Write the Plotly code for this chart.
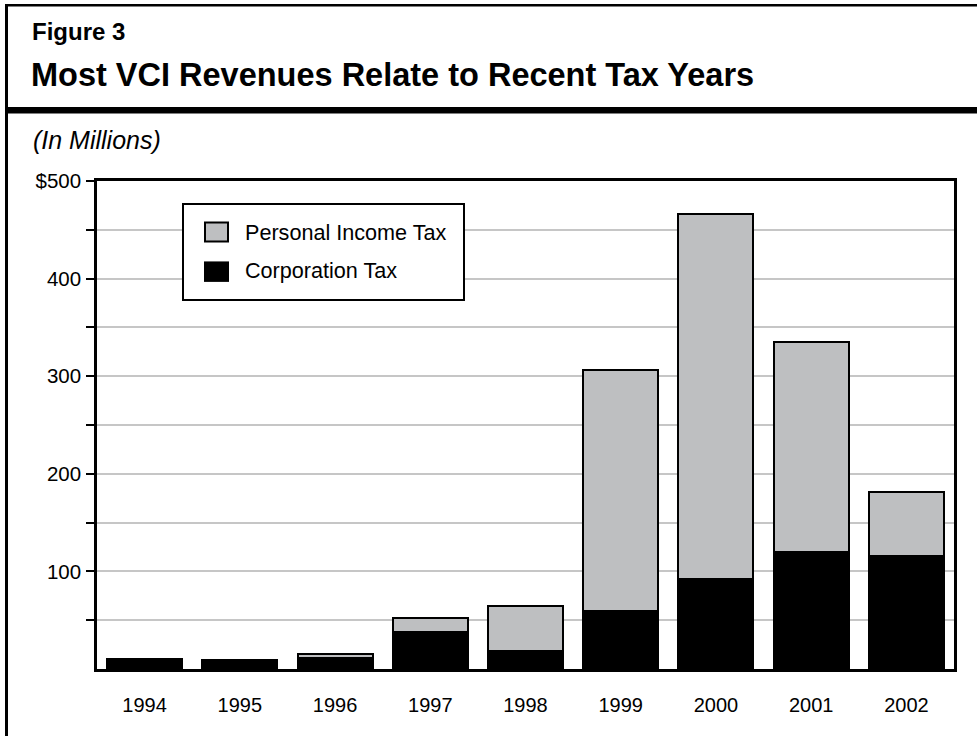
import plotly.graph_objects as go

# ---- data ----
years = ["1994", "1995", "1996", "1997", "1998", "1999", "2000", "2001", "2002"]
corporation_tax = [10, 9, 11, 38, 18, 59, 92, 120, 116]
personal_income_tax = [0, 0, 4, 14, 47, 247, 374, 215, 65]
y_tick_values = [50, 100, 150, 200, 250, 300, 350, 400, 450, 500]
y_tick_labels = ["", "100", "", "200", "", "300", "", "400", "", "$500"]

FONT = "Liberation Sans, Arial, Helvetica, sans-serif"
GRAY = "#bebfc1"

W, H = 977, 736
PL, PR, PT, PB = 97, 954, 181, 669.5


def px(x):
    return (x - PL) / (PR - PL)


def py(y):
    return (PB - y) / (PB - PT)


fig = go.Figure()
fig.add_trace(go.Bar(
    x=years, y=corporation_tax, name="Corporation Tax",
    marker=dict(color="black", line=dict(color="black", width=2)),
    showlegend=False,
))
fig.add_trace(go.Bar(
    x=years, y=personal_income_tax, name="Personal Income Tax",
    marker=dict(color=GRAY, line=dict(color="black", width=2)),
    showlegend=False,
))

shapes = []
# outer frame: left border, top border, thick rule under title
shapes.append(dict(type="line", xref="paper", yref="paper",
                   x0=px(6.5), x1=px(6.5), y0=py(4), y1=py(745),
                   line=dict(color="black", width=3), layer="above"))
shapes.append(dict(type="line", xref="paper", yref="paper",
                   x0=px(5), x1=px(990), y0=py(5), y1=py(5),
                   line=dict(color="black", width=2.5), layer="above"))
shapes.append(dict(type="rect", xref="paper", yref="paper",
                   x0=px(5), x1=px(990), y0=py(107), y1=py(113.5),
                   fillcolor="black", line=dict(width=0), layer="above"))
# legend box
shapes.append(dict(type="rect", xref="paper", yref="paper",
                   x0=px(183), x1=px(464), y0=py(204), y1=py(300),
                   fillcolor="white", line=dict(color="black", width=2), layer="above"))
shapes.append(dict(type="rect", xref="paper", yref="paper",
                   x0=px(205), x1=px(228), y0=py(222.5), y1=py(241.5),
                   fillcolor=GRAY, line=dict(color="black", width=2), layer="above"))
shapes.append(dict(type="rect", xref="paper", yref="paper",
                   x0=px(204), x1=px(229), y0=py(261.5), y1=py(282),
                   fillcolor="black", line=dict(width=0), layer="above"))

annotations = [
    dict(text="<b>Figure 3</b>", x=px(30), y=py(31), xref="paper", yref="paper",
         xanchor="left", yanchor="middle", showarrow=False,
         font=dict(family=FONT, size=24, color="black")),
    dict(text="<b>Most VCI Revenues Relate to Recent Tax Years</b>", x=px(29), y=py(75),
         xref="paper", yref="paper", xanchor="left", yanchor="middle", showarrow=False,
         font=dict(family=FONT, size=32.5, color="black")),
    dict(text="<i>(In Millions)</i>", x=px(31), y=py(140), xref="paper", yref="paper",
         xanchor="left", yanchor="middle", showarrow=False,
         font=dict(family=FONT, size=25, color="black")),
    dict(text="Personal Income Tax", x=px(243), y=py(233), xref="paper", yref="paper",
         xanchor="left", yanchor="middle", showarrow=False,
         font=dict(family=FONT, size=21.6, color="black")),
    dict(text="Corporation Tax", x=px(243), y=py(271), xref="paper", yref="paper",
         xanchor="left", yanchor="middle", showarrow=False,
         font=dict(family=FONT, size=21.6, color="black")),
]

fig.update_layout(
    width=W, height=H,
    margin=dict(l=PL, r=W - PR, t=PT, b=H - PB),
    barmode="stack", bargap=0.213,
    plot_bgcolor="white", paper_bgcolor="white",
    font=dict(family=FONT, size=20, color="black"),
    shapes=shapes, annotations=annotations,
    showlegend=False,
)
fig.update_xaxes(
    type="category", range=[-0.5, 8.5],
    showline=True, linecolor="black", linewidth=2.5, mirror=True,
    showgrid=False, ticks="", ticklabelstandoff=16,
    tickfont=dict(family=FONT, size=20, color="black"),
)
fig.update_yaxes(
    range=[0, 500], tickmode="array", tickvals=y_tick_values, ticktext=y_tick_labels,
    showline=True, linecolor="black", linewidth=2.5, mirror=True,
    ticks="outside", ticklen=8, tickwidth=2, tickcolor="black",
    showgrid=True, gridcolor="#c6c6c6", gridwidth=2, zeroline=False,
    ticklabelstandoff=1,
    tickfont=dict(family=FONT, size=20.5, color="black"),
)

fig.write_html("out.html")
